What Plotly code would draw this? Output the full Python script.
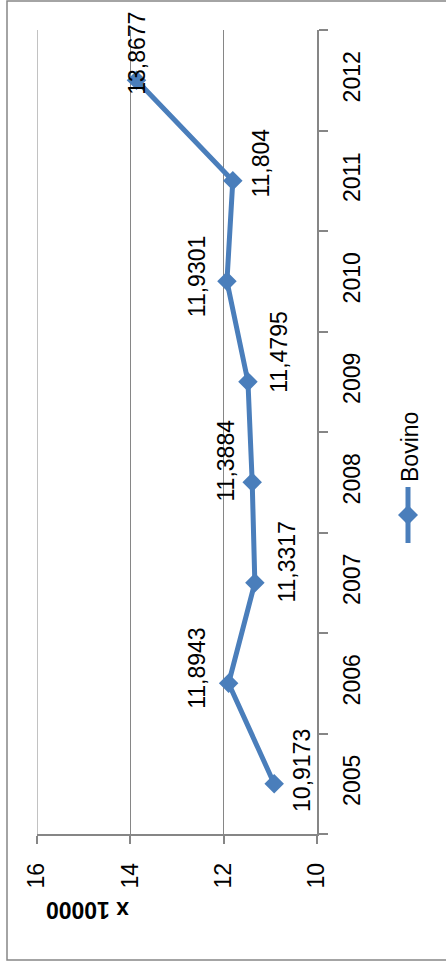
import plotly.graph_objects as go

# Bovine herd (x 10000) per year
years = ["2005", "2006", "2007", "2008", "2009", "2010", "2011", "2012"]
bovino = [10.9173, 11.8943, 11.3317, 11.3884, 11.4795, 11.9301, 11.804, 13.8677]
value_ticks = [10, 12, 14, 16]

# label offsets (pixels, right / up) for each data label
label_dx = [28, -31, 32, -26, 31, -30, 28, 1]
label_dy = [13, 15, 21, 22, 30, 5, 18, 27]

W, H = 446, 967
L, R, T, B = 37, 317, 30, 834

BLUE = "#4A7EBB"
GRAY = "#868686"
FONT = "Liberation Sans"
FS = 23


def px(x):
    return (x - L) / (R - L)


def py(y):
    return (B - y) / (B - T)


fig = go.Figure()
fig.add_trace(go.Scatter(
    x=bovino, y=years, mode="lines+markers",
    line=dict(color=BLUE, width=5),
    marker=dict(symbol="diamond", size=15, color=BLUE),
    showlegend=False, cliponaxis=False,
))

annotations = []
# category positions are given by index on the category axis
for i, (v, dx, dy) in enumerate(zip(bovino, label_dx, label_dy)):
    annotations.append(dict(
        x=v, y=i, xref="x", yref="y", text=f"{v:g}".replace(".", ","),
        showarrow=False, textangle=-90, xshift=dx, yshift=dy,
        xanchor="center", yanchor="middle",
        font=dict(family=FONT, size=FS, color="#000000"),
    ))

# axis unit
annotations.append(dict(
    x=px(88), y=py(910), xref="paper", yref="paper", text="<b>x 10000</b>",
    showarrow=False, textangle=180, xanchor="center", yanchor="middle",
    font=dict(family=FONT, size=FS, color="#000000"),
))

# legend text
annotations.append(dict(
    x=px(410), y=py(447), xref="paper", yref="paper", text="Bovino",
    showarrow=False, textangle=-90, xanchor="center", yanchor="middle",
    font=dict(family=FONT, size=FS, color="#000000"),
))

shapes = [
    # chart border
    dict(type="rect", xref="paper", yref="paper",
         x0=px(7), x1=px(460), y0=py(960), y1=py(1),
         line=dict(color=GRAY, width=1.5), fillcolor="rgba(0,0,0,0)"),
    # gridline at the far end of the value axis
    dict(type="line", xref="x", yref="paper",
         x0=value_ticks[-1], x1=value_ticks[-1], y0=0, y1=1,
         line=dict(color=GRAY, width=1), layer="below"),
    # legend line
    dict(type="line", xref="paper", yref="paper",
         x0=px(408), x1=px(408), y0=py(487), y1=py(543),
         line=dict(color=BLUE, width=5)),
    # legend diamond
    dict(type="path", xref="paper", yref="paper",
         path=(f"M {px(408)},{py(505)} L {px(418)},{py(515)} "
               f"L {px(408)},{py(525)} L {px(398)},{py(515)} Z"),
         fillcolor=BLUE, line=dict(color=BLUE, width=0)),
]

fig.update_layout(
    width=W, height=H,
    margin=dict(l=L, r=W - R, t=T, b=H - B),
    paper_bgcolor="white", plot_bgcolor="white",
    font=dict(family=FONT, size=FS, color="#000000"),
    annotations=annotations, shapes=shapes,
    xaxis=dict(
        range=[16, 10], tickvals=value_ticks, tickangle=-90,
        showgrid=True, gridcolor=GRAY, gridwidth=1,
        showline=True, linecolor=GRAY, linewidth=1.5,
        ticks="outside", ticklen=8, tickcolor=GRAY, tickwidth=1.5,
        zeroline=False, ticklabelstandoff=10,
        tickfont=dict(family=FONT, size=FS, color="#000000"),
    ),
    yaxis=dict(
        type="category", categoryorder="array", categoryarray=years,
        range=[-0.5, 7.5], side="right",
        showgrid=False, showline=True, linecolor=GRAY, linewidth=1.5,
        ticks="outside", ticklen=9, tickcolor=GRAY, tickwidth=1.5,
        tickson="boundaries", tickangle=-90, ticklabelstandoff=14,
        tickfont=dict(family=FONT, size=FS, color="#000000"),
    ),
)

fig.write_html("out.html")
